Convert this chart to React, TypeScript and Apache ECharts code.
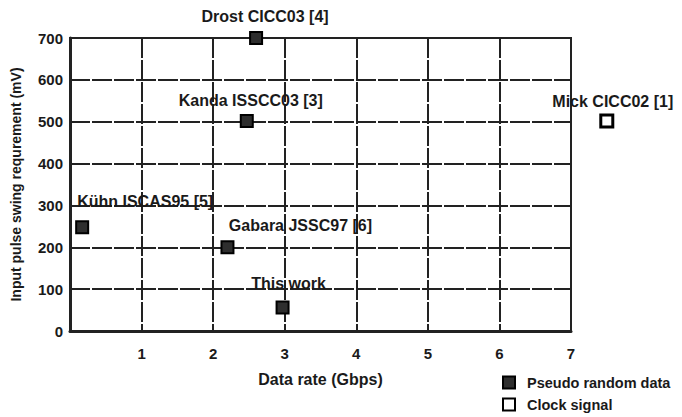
import React, { useEffect, useRef } from "react";
import * as echarts from "echarts";

const prbsNames = ["Drost CICC03 [4]", "Kanda ISSCC03 [3]", "Kühn ISCAS95 [5]", "Gabara JSSC97 [6]", "This work"];
const prbsRate = [2.6, 2.47, 0.17, 2.2, 2.97];
const prbsSwing = [700, 502, 248, 200, 56];
const prbsLabelOffsets: [number, number][] = [[9, -2], [4, 0], [63, -6], [73, -2], [6, -4]];

const clockNames = ["Mick CICC02 [1]"];
const clockRate = [7.5];
const clockSwing = [502];
const clockLabelOffsets: [number, number][] = [[6, 1]];

const FONT = "Liberation Sans";
const TXT = "#1a1a1a";
const FS = 15;
const FW = "bold";

export default function App() {
  const ref = useRef<HTMLDivElement>(null);
  useEffect(() => {
    const chart = echarts.init(ref.current!, null, { renderer: "svg" });
    const lbl = (off: [number, number]) => ({
      show: true,
      position: "top" as const,
      offset: off,
      fontFamily: FONT,
      fontSize: 16,
      fontWeight: FW,
      color: TXT,
      opacity: 1,
    });
    chart.setOption({
      animation: false,
      backgroundColor: "#fff",
      textStyle: { fontFamily: FONT, color: TXT },
      grid: {
        left: 70,
        right: 111,
        top: 38,
        bottom: 86,
        show: true,
        borderColor: "#222",
        borderWidth: 2,
      },
      legend: {
        orient: "vertical",
        left: 502,
        top: 375,
        height: 42,
        padding: 0,
        itemWidth: 12,
        itemHeight: 12,
        itemGap: 7,
        textStyle: {
          fontFamily: FONT,
          fontSize: 14.5,
          fontWeight: FW,
          color: TXT,
          lineHeight: 14,
          padding: [0, 0, 0, 7],
        },
        data: ["Pseudo random data", "Clock signal"],
      },
      xAxis: {
        type: "value",
        min: 0,
        max: 7,
        interval: 1,
        name: "Data rate (Gbps)",
        nameLocation: "middle",
        nameGap: 40,
        nameTextStyle: { fontFamily: FONT, fontSize: 16, fontWeight: FW, color: TXT },
        axisLine: { lineStyle: { color: "#222", width: 3 } },
        axisTick: { show: false },
        axisLabel: {
          margin: 15,
          fontFamily: FONT,
          fontSize: FS,
          fontWeight: FW,
          color: TXT,
          formatter: (v: number) => (v === 0 ? "" : String(v)),
        },
        splitLine: { show: true, lineStyle: { color: "#222", width: 2, type: [20, 2] } },
      },
      yAxis: {
        type: "value",
        min: 0,
        max: 700,
        interval: 100,
        name: "Input pulse swing requrement (mV)",
        nameLocation: "middle",
        nameGap: 47,
        nameTextStyle: { fontFamily: FONT, fontSize: 14, fontWeight: FW, color: TXT },
        axisLine: { show: true, lineStyle: { color: "#222", width: 3 } },
        axisTick: { show: false },
        axisLabel: { margin: 7, fontFamily: FONT, fontSize: FS, fontWeight: FW, color: TXT },
        splitLine: { show: true, lineStyle: { color: "#222", width: 2, type: [20, 2] } },
      },
      series: [
        {
          name: "Pseudo random data",
          type: "scatter",
          symbol: "rect",
          symbolSize: 12,
          clip: false,
          itemStyle: { color: "#2e2e2e", borderColor: "#000", borderWidth: 2, opacity: 1 },
          data: prbsRate.map((x, i) => ({
            name: prbsNames[i],
            value: [x, prbsSwing[i]],
            label: { ...lbl(prbsLabelOffsets[i]), formatter: prbsNames[i] },
          })),
        },
        {
          name: "Clock signal",
          type: "scatter",
          symbol: "rect",
          symbolSize: 12,
          clip: false,
          itemStyle: { color: "#fff", borderColor: "#000", borderWidth: 3, opacity: 1 },
          data: clockRate.map((x, i) => ({
            name: clockNames[i],
            value: [x, clockSwing[i]],
            label: { ...lbl(clockLabelOffsets[i]), formatter: clockNames[i] },
          })),
        },
      ],
    });
    return () => chart.dispose();
  }, []);
  return (
    <div
      ref={ref}
      style={{ position: "fixed", left: 0, top: 0, width: 682, height: 417, background: "#fff" }}
    />
  );
}
